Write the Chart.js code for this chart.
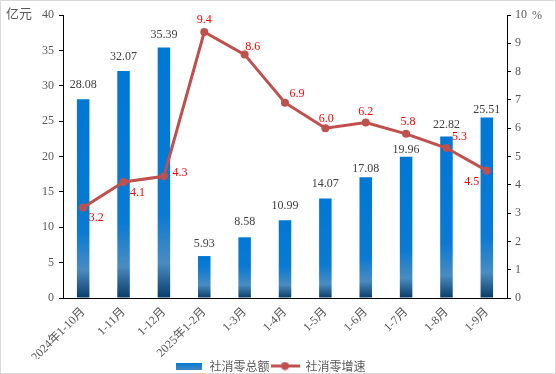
<!DOCTYPE html>
<html>
<head>
<meta charset="utf-8">
<script src="https://cdn.jsdelivr.net/npm/chart.js@4.4.1/dist/chart.umd.min.js"></script>
<style>
	body { margin: 0; background: #fff; }
	#wrap { width: 556px; height: 374px; box-sizing: border-box; border: 1px solid #d9d9d9; }
	canvas { display: block; }
</style>
</head>
<body>
<div id="wrap"><canvas id="chart" width="554" height="372"></canvas></div>
<script>
var categories = ['2024年1-10月', '1-11月', '1-12月', '2025年1-2月', '1-3月', '1-4月', '1-5月', '1-6月', '1-7月', '1-8月', '1-9月'];
var totalSales = [28.08, 32.07, 35.39, 5.93, 8.58, 10.99, 14.07, 17.08, 19.96, 22.82, 25.51];
var growthRate = [3.2, 4.1, 4.3, 9.4, 8.6, 6.9, 6.0, 6.2, 5.8, 5.3, 4.5];
var leftTicks = [0, 5, 10, 15, 20, 25, 30, 35, 40];
var rightTicks = [0, 1, 2, 3, 4, 5, 6, 7, 8, 9, 10];

var SERIF = '"Liberation Serif", "Times New Roman", "Noto Sans CJK SC", serif';
var CJK = '"Noto Sans CJK SC", "Liberation Serif", sans-serif';
var GREY = '#595959';
var LINE_RED = '#c0504d';

// label placement, tuned by eye against the picture
var barLabelGap = [11, 11, 10, 9, 12, 11, 11, 5, 4, 9, 5];
var rateLabelShift = [[13, 10], [14, 11], [16, -3], [0, -12], [8, -8], [12, -9], [1, -9], [0, -11], [2, -12], [13, -11], [-15, 11]];

function barFill(context) {
	var chart = context.chart;
	var ys = chart.scales.y;
	if (!ys || !chart.chartArea) return '#0078d4';
	var top = ys.getPixelForValue(context.raw);
	var bottom = ys.getPixelForValue(0);
	var h = bottom - top;
	if (h <= 1) return '#0078d4';
	var light = Math.min(Math.max(h * 0.14, 13), 36);
	var g = chart.ctx.createLinearGradient(0, top, 0, bottom);
	g.addColorStop(0, '#0078d4');
	g.addColorStop(Math.max(0, 1 - light * 2.4 / h), '#0a7ad2');
	g.addColorStop(1 - light / h, '#4a8cc1');
	g.addColorStop(1, '#083c69');
	return g;
}

function legendIcon(kind) {
	var c = document.createElement('canvas');
	var x = c.getContext('2d');
	if (kind === 'bar') {
		c.width = 26; c.height = 7;
		var g = x.createLinearGradient(0, 0, 0, 7);
		g.addColorStop(0, '#0078d4');
		g.addColorStop(1, '#3f86c0');
		x.fillStyle = g;
		x.fillRect(0, 0, 26, 7);
	} else {
		c.width = 29; c.height = 9;
		x.strokeStyle = LINE_RED;
		x.lineWidth = 3;
		x.beginPath();
		x.moveTo(0, 4.5);
		x.lineTo(29, 4.5);
		x.stroke();
		x.fillStyle = LINE_RED;
		x.beginPath();
		x.arc(14.5, 4.5, 4, 0, Math.PI * 2);
		x.fill();
	}
	return c;
}

var labelPlugin = {
	id: 'valueLabels',
	afterDatasetsDraw: function(chart) {
		var ctx = chart.ctx;
		ctx.save();
		ctx.font = '12px ' + SERIF;

		var barMeta = chart.getDatasetMeta(0);
		ctx.fillStyle = '#404040';
		ctx.textAlign = 'center';
		ctx.textBaseline = 'alphabetic';
		barMeta.data.forEach(function(el, i) {
			ctx.fillText(totalSales[i].toFixed(2), el.x, el.y - barLabelGap[i]);
		});

		var lineMeta = chart.getDatasetMeta(1);
		ctx.fillStyle = '#ff0000';
		ctx.textBaseline = 'middle';
		lineMeta.data.forEach(function(el, i) {
			var s = rateLabelShift[i];
			ctx.fillText(growthRate[i].toFixed(1), el.x + s[0], el.y + s[1]);
		});

		// axis units
		var area = chart.chartArea;
		ctx.fillStyle = GREY;
		ctx.textAlign = 'left';
		ctx.font = '13px ' + CJK;
		ctx.fillText('亿元', 5, area.top - 2);
		ctx.font = '12px ' + SERIF;
		ctx.fillText('%', area.right + 25, area.top + 1);
		ctx.restore();
	}
};

var chart = new Chart(document.getElementById('chart'), {
	type: 'bar',
	data: {
		labels: categories,
		datasets: [{
			type: 'bar',
			label: '社消零总额',
			data: totalSales,
			yAxisID: 'y',
			backgroundColor: barFill,
			barPercentage: 0.31,
			categoryPercentage: 1,
			order: 1
		}, {
			type: 'line',
			label: '社消零增速',
			data: growthRate,
			yAxisID: 'y1',
			borderColor: LINE_RED,
			backgroundColor: LINE_RED,
			borderWidth: 3,
			pointRadius: 4,
			pointBorderWidth: 0,
			pointBackgroundColor: LINE_RED,
			tension: 0,
			order: 0
		}]
	},
	options: {
		responsive: false,
		animation: false,
		layout: {
			padding: { left: 0, right: 16, top: 14, bottom: -9 }
		},
		scales: {
			x: {
				offset: true,
				grid: { display: false, drawTicks: false },
				border: { display: true, color: '#000', width: 1 },
				ticks: {
					color: GREY,
					font: { family: SERIF, size: 12 },
					minRotation: 45,
					maxRotation: 45,
					padding: 7,
					autoSkip: false
				},
				afterFit: function(scale) { scale.height = 61; }
			},
			y: {
				position: 'left',
				min: 0,
				max: 40,
				afterBuildTicks: function(scale) {
					scale.ticks = leftTicks.map(function(v) { return { value: v }; });
				},
				grid: { display: true, drawOnChartArea: false, color: '#000', tickLength: 4 },
				border: { display: true, color: '#000', width: 1 },
				ticks: {
					color: GREY,
					font: { family: SERIF, size: 12 },
					padding: 5
				},
				afterFit: function(scale) { scale.width = 62; }
			},
			y1: {
				position: 'right',
				min: 0,
				max: 10,
				afterBuildTicks: function(scale) {
					scale.ticks = rightTicks.map(function(v) { return { value: v }; });
				},
				grid: { display: true, drawOnChartArea: false, color: '#000', tickLength: 4 },
				border: { display: true, color: '#000', width: 1 },
				ticks: {
					color: GREY,
					font: { family: SERIF, size: 12 },
					padding: 4
				},
				afterFit: function(scale) { scale.width = 32; }
			}
		},
		plugins: {
			legend: {
				position: 'bottom',
				labels: {
					color: GREY,
					font: { family: CJK, size: 12 },
					usePointStyle: true,
					pointStyleWidth: 29,
					padding: 1,
					generateLabels: function(c) {
						return [{
							text: '社消零总额',
							pointStyle: legendIcon('bar'),
							fontColor: GREY,
							datasetIndex: 0,
							lineWidth: 0
						}, {
							text: '社消零增速',
							pointStyle: legendIcon('line'),
							fontColor: GREY,
							datasetIndex: 1,
							lineWidth: 0
						}];
					}
				}
			},
			tooltip: { enabled: false }
		}
	},
	plugins: [labelPlugin]
});
</script>
</body>
</html>
